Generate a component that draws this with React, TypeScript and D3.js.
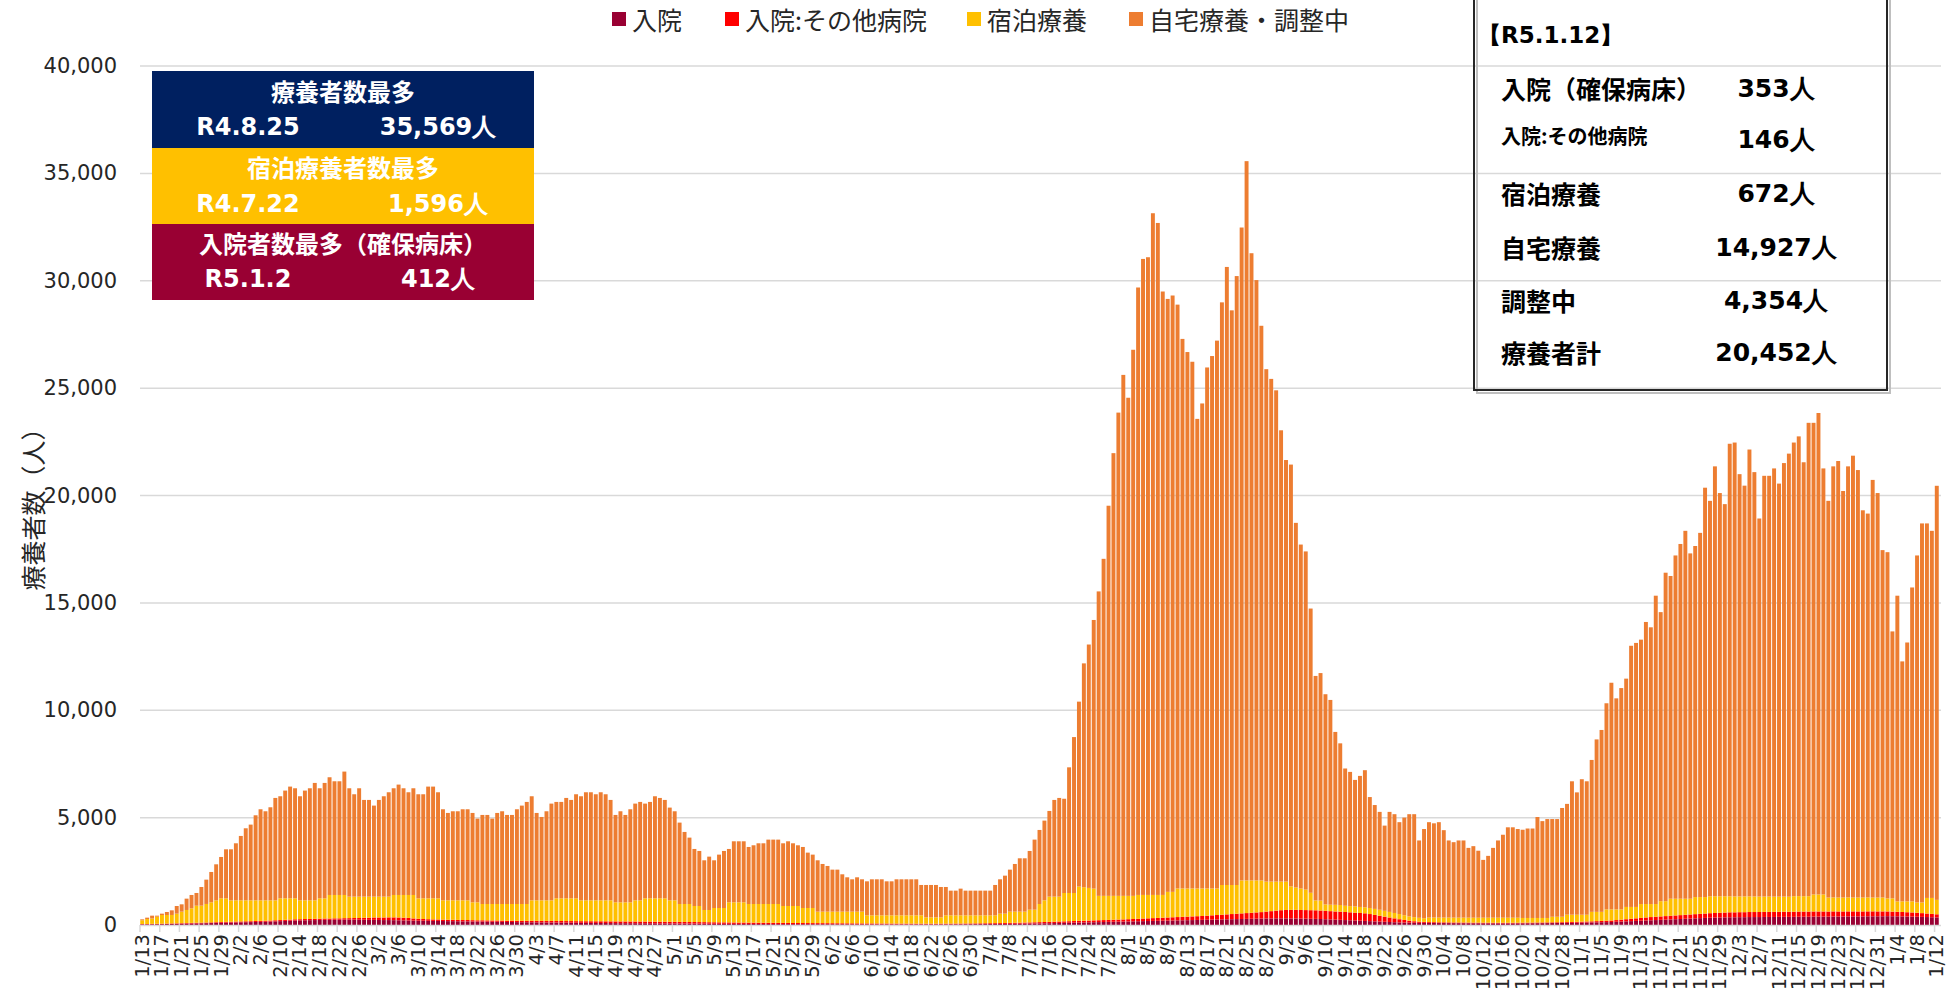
import React from "react";
import * as d3 from "d3";

// ---- chart size (px)
const W = 1949;
const H = 994;

// ---- series
const seriesKeys = ["hosp", "other", "hotel", "home"];
const seriesLabels = ["入院", "入院:その他病院", "宿泊療養", "自宅療養・調整中"];
const seriesColors = ["#990033", "#FF0000", "#FFC000", "#ED7D31"];

// daily categories 2022/1/13 .. 2023/1/12
const dates = d3.timeDay.range(new Date(2022, 0, 13), new Date(2023, 0, 13));
const fmtDate = d3.timeFormat("%-m/%-d");
const categories = dates.map(d => fmtDate(d));

// 療養者計 (total patients per day)
const total = [
  // Jan 13-31
  264, 342, 435, 435, 528, 606, 683, 885, 963, 1227, 1398, 1491, 1770, 2112, 2469, 2826, 3168, 3525, 3525,
  // Feb
  3805, 4147, 4504, 4675, 5109, 5389, 5296, 5482, 5917, 5995, 6259, 6445, 6367, 5995, 6259, 6367, 6616, 6367, 6616, 6880, 6693, 6693, 7144, 6367, 6088, 6367, 5824, 5824,
  // Mar
  5560, 5824, 5995, 6181, 6367, 6538, 6367, 6181, 6367, 6088, 6088, 6445, 6445, 6181, 5389, 5218, 5296, 5296, 5389, 5389, 5218, 4954, 5125, 5125, 4954, 5218, 5296, 5125, 5125, 5389, 5560,
  // Apr
  5731, 5995, 5218, 5031, 5296, 5653, 5731, 5731, 5917, 5824, 6088, 5995, 6181, 6181, 6088, 6181, 6088, 5824, 5125, 5296, 5125, 5389, 5653, 5731, 5653, 5731, 5995, 5917, 5824, 5467,
  // May
  5296, 4768, 4333, 4069, 3541, 3448, 3013, 3184, 3013, 3277, 3448, 3541, 3898, 3898, 3898, 3634, 3712, 3805, 3805, 3976, 3976, 3976, 3805, 3898, 3805, 3712, 3634, 3370, 3277, 3013, 2842,
  // Jun
  2749, 2578, 2578, 2361, 2221, 2128, 2221, 2128, 2034, 2128, 2128, 2128, 2034, 2034, 2128, 2128, 2128, 2128, 2128, 1864, 1864, 1864, 1864, 1770, 1770, 1600, 1600, 1693, 1600, 1600,
  // Jul
  1600, 1600, 1600, 1600, 1864, 2128, 2298, 2578, 2842, 3106, 3106, 3448, 3976, 4426, 4861, 5311, 5824, 5917, 5879, 7342, 8751, 10401, 12183, 13061, 14204, 15534, 17051, 19524, 21972, 23860, 25616,
  // Aug
  24552, 26786, 29686, 31016, 31095, 33144, 32691, 29499, 29154, 29313, 28888, 27292, 26680, 26228, 23568, 24286, 25962, 26494, 27212, 28994, 30643, 28622, 30218, 32479, 35569, 31282, 30031, 27903, 25882, 25430, 24898,
  // Sep
  23036, 21652, 21440, 18726, 17716, 17396, 14736, 11598, 11731, 10746, 10480, 8991, 8459, 7288, 7129, 6756, 6943, 7209, 5958, 5586, 5267, 4628, 5267, 5160, 4788, 5001, 5160, 5160, 3937, 4469,
  // Oct
  4788, 4735, 4788, 4416, 3937, 3857, 3937, 3937, 3591, 3671, 3458, 3032, 3219, 3591, 3937, 4203, 4549, 4549, 4469, 4436, 4493, 4493, 5029, 4837, 4933, 4933, 4933, 5449, 5640, 6692, 6176,
  // Nov
  6788, 6692, 7686, 8642, 9082, 10325, 11281, 10554, 11032, 11472, 13002, 13135, 13288, 14111, 13862, 15334, 14569, 16405, 16252, 17208, 17743, 18355, 17304, 17648, 18260, 20363, 19751, 21357, 20114, 19598,
  // Dec
  22409, 22466, 20994, 20458, 22141, 21089, 18929, 20917, 20917, 21261, 20554, 21510, 21950, 22466, 22753, 21548, 23384, 23384, 23842, 21261, 19751, 21357, 21606, 20210, 21357, 21854, 21185, 19311, 19158, 20726, 20114,
  // Jan 1-12
  17457, 17361, 13671, 15334, 12275, 13155, 15717, 17208, 18700, 18700, 18355, 20452
];

// 入院（確保病床）
const hosp = [
  30, 32, 35, 38, 40, 45, 50, 55, 60, 65, 70, 75, 80, 85, 90, 100, 105, 110, 115,
  120, 125, 130, 135, 140, 145, 150, 160, 170, 180, 190, 200, 210, 215, 220, 225, 230, 235, 240, 240, 245, 245, 250, 250, 250, 245, 245, 240,
  240, 235, 230, 230, 225, 220, 215, 210, 205, 200, 200, 195, 190, 190, 185, 180, 180, 175, 170, 170, 165, 160, 160, 155, 150, 150, 145, 140, 140, 135, 130,
  130, 128, 125, 122, 120, 118, 115, 112, 110, 108, 105, 102, 100, 98, 96, 94, 92, 90, 88, 86, 85, 84, 83, 82, 80, 80, 78, 76, 75, 74,
  72, 70, 68, 66, 65, 64, 62, 60, 58, 56, 55, 54, 52, 50, 50, 48, 48, 46, 45, 45, 44, 43, 42, 42, 41, 40, 40, 40, 39, 38, 38,
  38, 37, 36, 36, 35, 35, 34, 34, 33, 33, 32, 32, 32, 31, 31, 30, 30, 30, 30, 30, 30, 31, 31, 32, 32, 33, 34, 35, 36, 38,
  40, 42, 44, 46, 48, 50, 52, 55, 58, 60, 64, 68, 72, 76, 80, 85, 90, 95, 100, 105, 110, 115, 120, 125, 130, 135, 140, 145, 150, 155, 160,
  165, 170, 175, 180, 185, 190, 195, 200, 205, 210, 215, 220, 225, 230, 235, 240, 245, 250, 255, 260, 265, 270, 275, 280, 285, 290, 295, 300, 305, 305, 310,
  310, 310, 305, 305, 300, 295, 290, 285, 280, 270, 260, 250, 240, 230, 220, 210, 200, 190, 180, 170, 160, 150, 140, 130, 120, 115, 110, 105, 100, 100,
  95, 95, 90, 90, 88, 86, 85, 84, 82, 80, 80, 78, 78, 76, 76, 75, 75, 75, 76, 78, 80, 82, 84, 86, 88, 90, 92, 95, 98, 100, 105,
  110, 115, 120, 125, 130, 135, 140, 150, 160, 170, 180, 190, 200, 210, 220, 230, 240, 250, 260, 270, 280, 290, 300, 310, 320, 330, 340, 345, 350, 355,
  360, 360, 365, 365, 370, 370, 370, 375, 375, 375, 380, 380, 380, 380, 385, 385, 385, 390, 390, 390, 390, 395, 395, 395, 400, 400, 400, 400, 405, 405, 405,
  408, 412, 408, 404, 400, 395, 390, 385, 378, 370, 362, 353
];

// 入院:その他病院
const other = [
  15, 15, 18, 18, 20, 20, 22, 22, 25, 25, 28, 28, 30, 30, 32, 32, 35, 35, 38,
  40, 40, 42, 42, 45, 45, 48, 48, 50, 50, 52, 52, 55, 55, 58, 58, 60, 60, 62, 62, 65, 65, 68, 70, 75, 80, 90, 100,
  110, 115, 120, 125, 130, 130, 125, 120, 100, 90, 80, 75, 70, 68, 66, 65, 64, 63, 62, 62, 61, 60, 60, 60, 60, 60, 60, 60, 62, 62, 64,
  65, 66, 68, 70, 70, 72, 72, 74, 74, 75, 75, 76, 76, 78, 78, 80, 80, 80, 80, 80, 80, 80, 80, 80, 80, 80, 78, 78, 78, 76,
  76, 75, 75, 74, 74, 72, 72, 70, 70, 68, 68, 66, 66, 64, 64, 62, 62, 60, 60, 58, 58, 56, 56, 55, 54, 53, 52, 51, 50, 50, 49,
  48, 47, 46, 45, 44, 43, 42, 41, 40, 40, 39, 38, 37, 36, 35, 35, 34, 34, 33, 33, 32, 32, 32, 32, 32, 32, 33, 33, 34, 35,
  35, 36, 37, 38, 39, 40, 42, 44, 46, 48, 50, 52, 55, 58, 60, 62, 65, 68, 70, 72, 75, 78, 80, 82, 85, 88, 90, 92, 95, 98, 100,
  105, 110, 115, 120, 125, 130, 135, 140, 145, 150, 155, 160, 165, 170, 175, 180, 190, 200, 210, 220, 230, 240, 250, 260, 270, 280, 290, 300, 320, 340, 360,
  380, 390, 400, 400, 400, 400, 400, 400, 395, 390, 385, 380, 380, 375, 370, 365, 360, 355, 330, 300, 270, 240, 210, 180, 150, 120, 90, 70, 55, 45,
  40, 38, 36, 35, 34, 33, 32, 32, 31, 30, 30, 30, 30, 30, 30, 30, 30, 30, 30, 30, 31, 31, 32, 32, 33, 34, 35, 36, 38, 40, 42,
  45, 48, 50, 55, 60, 65, 70, 80, 90, 100, 110, 120, 130, 140, 150, 155, 160, 165, 170, 175, 180, 185, 190, 195, 200, 205, 210, 215, 220, 225,
  230, 230, 232, 232, 234, 234, 235, 235, 236, 236, 236, 238, 238, 238, 240, 240, 240, 240, 240, 240, 238, 238, 236, 236, 234, 234, 232, 232, 230, 230, 228,
  225, 220, 215, 210, 205, 200, 195, 185, 175, 165, 155, 146
];

// 宿泊療養
const hotel = [
  175, 230, 250, 330, 405, 400, 395, 450, 535, 610, 680, 795, 790, 865, 935, 1015, 1105, 1095, 995,
  990, 985, 977, 972, 964, 959, 951, 941, 929, 1012, 1000, 990, 977, 879, 871, 866, 859, 947, 940, 1096, 1088, 1088, 1080, 1000, 995, 995, 985, 980,
  970, 970, 970, 965, 1043, 1048, 1058, 1068, 1093, 952, 962, 972, 982, 984, 898, 904, 905, 911, 917, 917, 830, 836, 758, 763, 768, 768, 773, 778, 776, 781, 784,
  783, 955, 956, 957, 959, 959, 1055, 1056, 1058, 1059, 1062, 971, 973, 973, 975, 975, 977, 979, 890, 890, 891, 892, 986, 987, 1082, 1082, 1086, 1088, 1089, 999,
  1001, 833, 835, 838, 746, 749, 565, 569, 664, 668, 669, 936, 938, 942, 942, 868, 868, 872, 873, 875, 876, 879, 787, 788, 790, 792, 700, 701, 703, 533, 534,
  535, 537, 539, 540, 542, 543, 545, 546, 377, 377, 379, 380, 381, 383, 384, 385, 386, 386, 387, 387, 295, 294, 294, 293, 386, 385, 383, 382, 380, 377,
  375, 372, 369, 366, 363, 438, 434, 522, 517, 513, 507, 594, 587, 844, 1009, 1173, 1165, 1157, 1320, 1313, 1305, 1596, 1560, 1520, 1480, 1134, 1127, 1120, 1112, 1104, 1097,
  1087, 1077, 1110, 1100, 1090, 1080, 1070, 1060, 1193, 1183, 1330, 1320, 1310, 1300, 1290, 1280, 1265, 1250, 1235, 1382, 1367, 1352, 1337, 1535, 1520, 1505, 1490, 1475, 1395, 1375, 1350,
  1330, 1320, 1095, 1045, 1000, 955, 810, 460, 460, 300, 300, 310, 310, 290, 290, 290, 280, 280, 280, 280, 280, 270, 260, 250, 240, 220, 200, 190, 180, 170,
  210, 215, 218, 220, 222, 224, 225, 226, 228, 230, 230, 232, 232, 234, 234, 235, 235, 235, 234, 219, 216, 214, 211, 209, 206, 260, 257, 254, 345, 340, 331,
  323, 315, 442, 432, 422, 527, 517, 497, 477, 571, 551, 531, 645, 625, 605, 590, 709, 694, 794, 779, 764, 749, 734, 795, 780, 765, 788, 778, 768, 758,
  748, 740, 735, 735, 730, 725, 720, 715, 715, 710, 705, 705, 700, 722, 717, 715, 715, 790, 790, 790, 650, 650, 647, 647, 649, 644, 646, 646, 648, 643, 645,
  647, 608, 617, 486, 495, 505, 515, 480, 497, 725, 743, 672
];

const yTicks = [0, 5000, 10000, 15000, 20000, 25000, 30000, 35000, 40000];

// 自宅療養・調整中 = 療養者計 − others
const rows = categories.map((c, i) => ({
  date: c,
  hosp: hosp[i],
  other: other[i],
  hotel: hotel[i],
  home: Math.max(0, total[i] - hosp[i] - other[i] - hotel[i])
}));

const stacked = d3.stack().keys(seriesKeys)(rows as any);

const x = d3.scaleBand().domain(categories).range([140, 1939]).paddingInner(0.2).paddingOuter(0.05);
const y = d3.scaleLinear().domain([0, 40000]).range([925, 66]);
const fmtNum = d3.format(",");

const jp = "'Noto Sans CJK JP', 'Noto Sans', sans-serif";
const num = "'DejaVu Sans', Verdana, sans-serif";

export default function App() {
  const step = x.step();
  return (
    <svg width={W} height={H} style={{ position: "absolute", left: 0, top: 0, background: "#fff" }}>
      {/* gridlines */}
      {yTicks.slice(1).map(t => (
        <line key={t} x1={140} x2={1941} y1={y(t)} y2={y(t)} stroke="#D9D9D9" strokeWidth={1.5} />
      ))}
      {/* y tick labels */}
      {yTicks.map(t => (
        <text key={t} x={117} y={y(t)} textAnchor="end" dominantBaseline="central" fontFamily={num} fontSize={21} fill="#262626">
          {fmtNum(t)}
        </text>
      ))}
      <text transform="translate(32,503) rotate(-90)" textAnchor="middle" dominantBaseline="central" fontFamily={jp} fontSize={25} fill="#262626">
        療養者数（人）
      </text>

      {/* bars */}
      {stacked.map((s, si) => (
        <g key={s.key} fill={seriesColors[si]}>
          {s.map((d, i) => (
            <rect key={i} x={x(categories[i])} width={x.bandwidth()} y={y(d[1])} height={Math.max(0, y(d[0]) - y(d[1]))} />
          ))}
        </g>
      ))}

      {/* x axis */}
      <line x1={140} x2={1941} y1={925.5} y2={925.5} stroke="#D9D9D9" strokeWidth={1.5} />
      {categories.map((c, i) =>
        i % 4 === 0 ? (
          <g key={c}>
            <line x1={140 + i * step} x2={140 + i * step} y1={925} y2={932} stroke="#D9D9D9" strokeWidth={1.5} />
            <text
              transform={`translate(${(x(c) as number) + x.bandwidth() / 2},934) rotate(-90)`}
              textAnchor="end"
              dominantBaseline="central"
              fontFamily={num}
              fontSize={19.5}
              fill="#262626"
            >
              {c}
            </text>
          </g>
        ) : null
      )}

      {/* legend */}
      {seriesLabels.map((l, i) => {
        const lx = [612, 725, 967, 1129][i];
        return (
          <g key={l}>
            <rect x={lx} y={12} width={14} height={14} fill={seriesColors[i]} />
            <text x={lx + 20} y={19} dominantBaseline="central" fontFamily={jp} fontSize={25} fill="#262626">
              {l}
            </text>
          </g>
        );
      })}

      {/* left info box */}
      <g fontFamily={jp} fontWeight="bold" fill="#fff">
        <rect x={152} y={71} width={382} height={77} fill="#002060" />
        <rect x={152} y={148} width={382} height={76} fill="#FFC000" />
        <rect x={152} y={224} width={382} height={76} fill="#990033" />
        <text x={343} y={90} textAnchor="middle" dominantBaseline="central" fontSize={24}>療養者数最多</text>
        <text x={248} y={127} textAnchor="middle" dominantBaseline="central" fontSize={24} fontFamily={num}>R4.8.25</text>
        <text x={438} y={127} textAnchor="middle" dominantBaseline="central" fontSize={24} fontFamily={num}>35,569人</text>
        <text x={343} y={166} textAnchor="middle" dominantBaseline="central" fontSize={24}>宿泊療養者数最多</text>
        <text x={248} y={204} textAnchor="middle" dominantBaseline="central" fontSize={24} fontFamily={num}>R4.7.22</text>
        <text x={438} y={204} textAnchor="middle" dominantBaseline="central" fontSize={24} fontFamily={num}>1,596人</text>
        <text x={343} y={242} textAnchor="middle" dominantBaseline="central" fontSize={24}>入院者数最多（確保病床）</text>
        <text x={248} y={279} textAnchor="middle" dominantBaseline="central" fontSize={24} fontFamily={num}>R5.1.2</text>
        <text x={438} y={279} textAnchor="middle" dominantBaseline="central" fontSize={24} fontFamily={num}>412人</text>
      </g>

      {/* right info box */}
      <rect x={1477} y={-4} width={413} height={397} fill="none" stroke="#BFBFBF" strokeWidth={2} />
      <rect x={1474} y={-4} width={413} height={394} fill="none" stroke="#262626" strokeWidth={2} />
      <g fontFamily={jp} fontWeight="bold" fill="#000">
        <text x={1478} y={35} dominantBaseline="central" fontSize={23} fontFamily={num}>【R5.1.12】</text>
        <text x={1501} y={88} dominantBaseline="central" fontSize={25}>入院（確保病床）</text>
        <text x={1501} y={135} dominantBaseline="central" fontSize={20}>入院:その他病院</text>
        <text x={1501} y={193} dominantBaseline="central" fontSize={25}>宿泊療養</text>
        <text x={1501} y={247} dominantBaseline="central" fontSize={25}>自宅療養</text>
        <text x={1501} y={300} dominantBaseline="central" fontSize={25}>調整中</text>
        <text x={1501} y={352} dominantBaseline="central" fontSize={25}>療養者計</text>
      </g>
      <g fontFamily={num} fontWeight="bold" fill="#000" textAnchor="middle">
        <text x={1776} y={88} dominantBaseline="central" fontSize={25}>353人</text>
        <text x={1776} y={139} dominantBaseline="central" fontSize={25}>146人</text>
        <text x={1776} y={193} dominantBaseline="central" fontSize={25}>672人</text>
        <text x={1776} y={247} dominantBaseline="central" fontSize={25}>14,927人</text>
        <text x={1776} y={300} dominantBaseline="central" fontSize={25}>4,354人</text>
        <text x={1776} y={352} dominantBaseline="central" fontSize={25}>20,452人</text>
      </g>
    </svg>
  );
}
